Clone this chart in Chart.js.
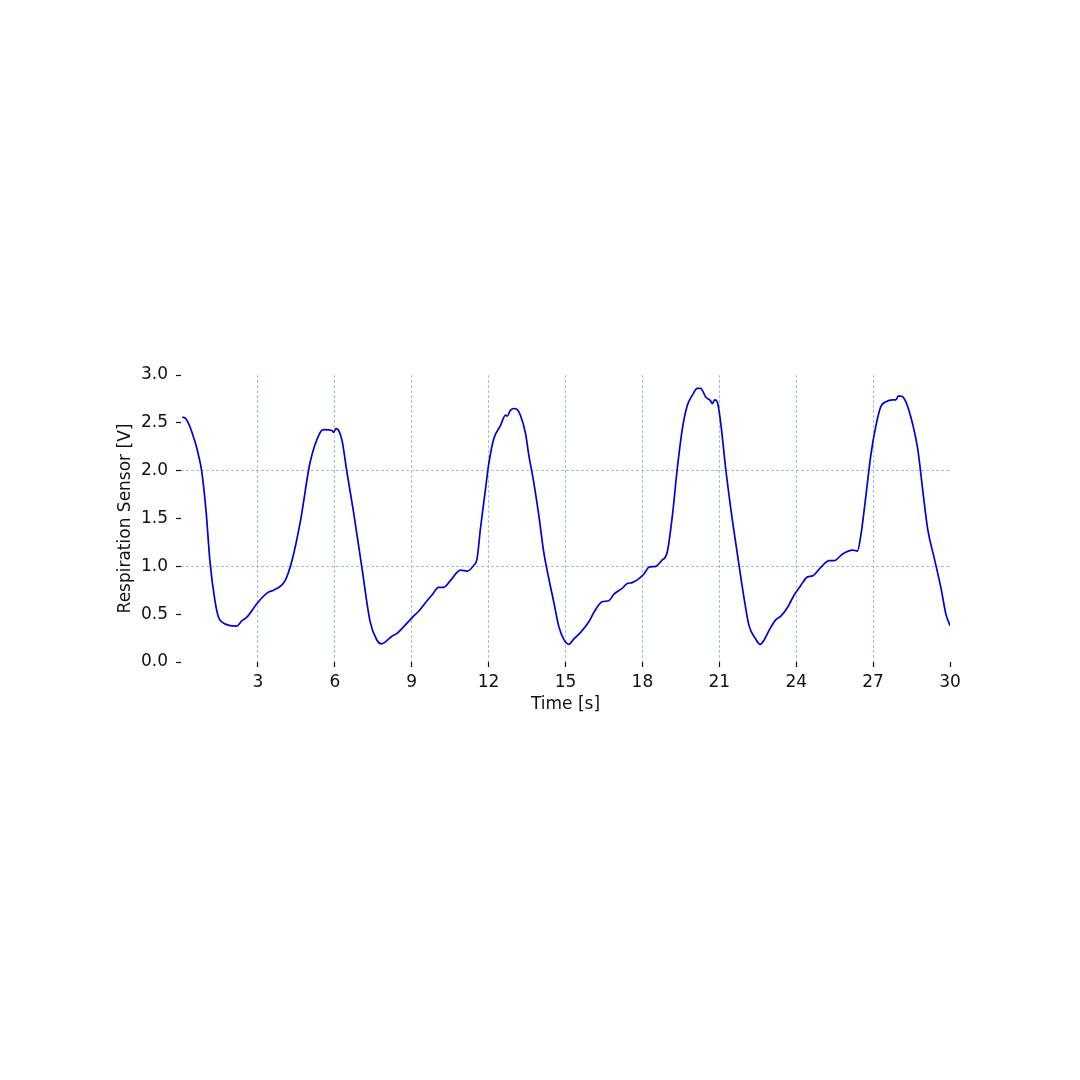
<!DOCTYPE html>
<html>
<head>
<meta charset="utf-8">
<script src="https://cdn.jsdelivr.net/npm/chart.js@4"></script>
<style>
  html, body { margin: 0; padding: 0; background: #fff; }
  #wrap { width: 1080px; height: 1080px; }
</style>
</head>
<body>
<div id="wrap"><canvas id="c" width="1080" height="1080"></canvas></div>
<script>
// Time [s]
const timeSec = [0.05,0.2,0.55,0.71,0.81,0.98,1.13,1.33,1.46,1.59,1.91,2.17,2.37,2.57,3.02,3.41,3.61,4.06,4.32,4.65,
  5.04,5.43,5.56,5.89,5.95,6.05,6.15,6.28,6.47,6.73,7.06,7.38,7.64,7.82,8.23,8.43,8.69,9.04,9.27,9.6,
  9.79,10.05,10.25,10.51,10.9,11.16,11.42,11.55,11.68,11.88,12.0,12.2,12.46,12.66,12.72,12.85,12.98,13.11,13.24,13.44,
  13.57,13.76,13.96,14.15,14.35,14.54,14.74,14.93,15.13,15.32,15.59,15.91,16.11,16.43,16.69,16.89,17.21,17.41,17.6,18.06,
  18.25,18.52,18.75,18.97,19.17,19.36,19.56,19.75,19.95,20.14,20.27,20.47,20.66,20.73,20.82,20.92,21.05,21.25,21.45,21.71,
  21.97,22.16,22.42,22.59,22.75,22.94,23.2,23.4,23.66,23.92,24.18,24.44,24.64,24.96,25.29,25.48,25.81,26.2,26.39,26.52,
  26.72,26.91,27.11,27.3,27.5,27.76,27.89,27.98,28.09,28.28,28.54,28.74,28.93,29.13,29.39,29.65,29.84,30.0];
// Respiration Sensor [V]
const sensorV = [2.56,2.54,2.30,2.13,1.99,1.57,1.05,0.63,0.47,0.42,0.38,0.375,0.43,0.47,0.63,0.73,0.75,0.85,1.05,1.46,
  2.09,2.40,2.43,2.42,2.40,2.44,2.42,2.32,1.99,1.57,0.98,0.42,0.23,0.19,0.27,0.30,0.37,0.47,0.53,0.64,
  0.70,0.78,0.78,0.85,0.96,0.95,1.01,1.08,1.39,1.81,2.06,2.33,2.47,2.58,2.57,2.63,2.65,2.64,2.58,2.39,
  2.16,1.88,1.53,1.15,0.87,0.63,0.37,0.24,0.185,0.24,0.31,0.42,0.52,0.63,0.64,0.71,0.77,0.82,0.83,0.92,
  0.99,1.00,1.06,1.15,1.53,2.02,2.44,2.68,2.79,2.86,2.86,2.77,2.73,2.70,2.74,2.72,2.51,2.02,1.60,1.12,
  0.66,0.38,0.24,0.185,0.23,0.33,0.44,0.48,0.57,0.70,0.80,0.89,0.90,0.99,1.06,1.06,1.13,1.17,1.16,1.32,
  1.74,2.16,2.47,2.67,2.72,2.74,2.74,2.78,2.78,2.72,2.49,2.23,1.81,1.39,1.08,0.77,0.50,0.38];
const xTickValues = [3,6,9,12,15,18,21,24,27,30];
const yTickValues = [0,0.5,1,1.5,2,2.5,3];
const yGridValues = [1,2];
const xTitle = 'Time [s]';
const yTitle = 'Respiration Sensor [V]';

const points = timeSec.map((t, i) => ({x: t, y: sensorV[i]}));
const FONT = "'DejaVu Sans', sans-serif";
const GRID = '#9cc2e0';

new Chart(document.getElementById('c'), {
  type: 'scatter',
  data: {
    datasets: [{
      data: points,
      showLine: true,
      borderColor: '#0000d8',
      borderWidth: 1.7,
      pointRadius: 0,
      cubicInterpolationMode: 'monotone',
      fill: false
    }]
  },
  options: {
    responsive: false,
    animation: false,
    devicePixelRatio: 1,
    plugins: { legend: { display: false }, tooltip: { enabled: false } },
    layout: { padding: { left: 115, right: 130, top: 375, bottom: 365 } },
    scales: {
      x: {
        type: 'linear',
        min: 0, max: 30,
        afterBuildTicks: (s) => { s.ticks = [0].concat(xTickValues).map(v => ({value: v})); },
        afterFit: (s) => { s.height = 53; },
        border: { display: false, dash: [3, 2] },
        grid: {
          color: (c) => (c.tick && xTickValues.includes(c.tick.value) && c.tick.value !== 30) ? GRID : 'rgba(0,0,0,0)',
          lineWidth: 1,
          tickColor: (c) => (c.tick && c.tick.value === 0) ? 'rgba(0,0,0,0)' : '#111',
          tickLength: 5,
          tickWidth: 1.2
        },
        ticks: {
          autoSkip: false,
          maxRotation: 0,
          padding: 5,
          color: '#111',
          font: { family: FONT, size: 17 },
          callback: (v) => v === 0 ? '' : String(v)
        },
        title: { display: true, text: xTitle, color: '#111', font: { family: FONT, size: 17 }, padding: { top: 0, bottom: 0 } }
      },
      y: {
        type: 'linear',
        min: 0, max: 3,
        afterBuildTicks: (s) => { s.ticks = yTickValues.map(v => ({value: v})); },
        afterFit: (s) => { s.width = 66; },
        border: { display: false, dash: [3, 2] },
        grid: {
          color: (c) => (c.tick && yGridValues.includes(c.tick.value)) ? GRID : 'rgba(0,0,0,0)',
          lineWidth: 1,
          tickColor: '#111',
          tickLength: 5,
          tickWidth: 1.2
        },
        ticks: {
          padding: 8,
          color: '#111',
          font: { family: FONT, size: 17 },
          callback: (v) => Number(v).toFixed(1)
        },
        title: { display: true, text: yTitle, color: '#111', font: { family: FONT, size: 17 }, padding: { top: 0, bottom: 0 } }
      }
    }
  }
});
</script>
</body>
</html>
